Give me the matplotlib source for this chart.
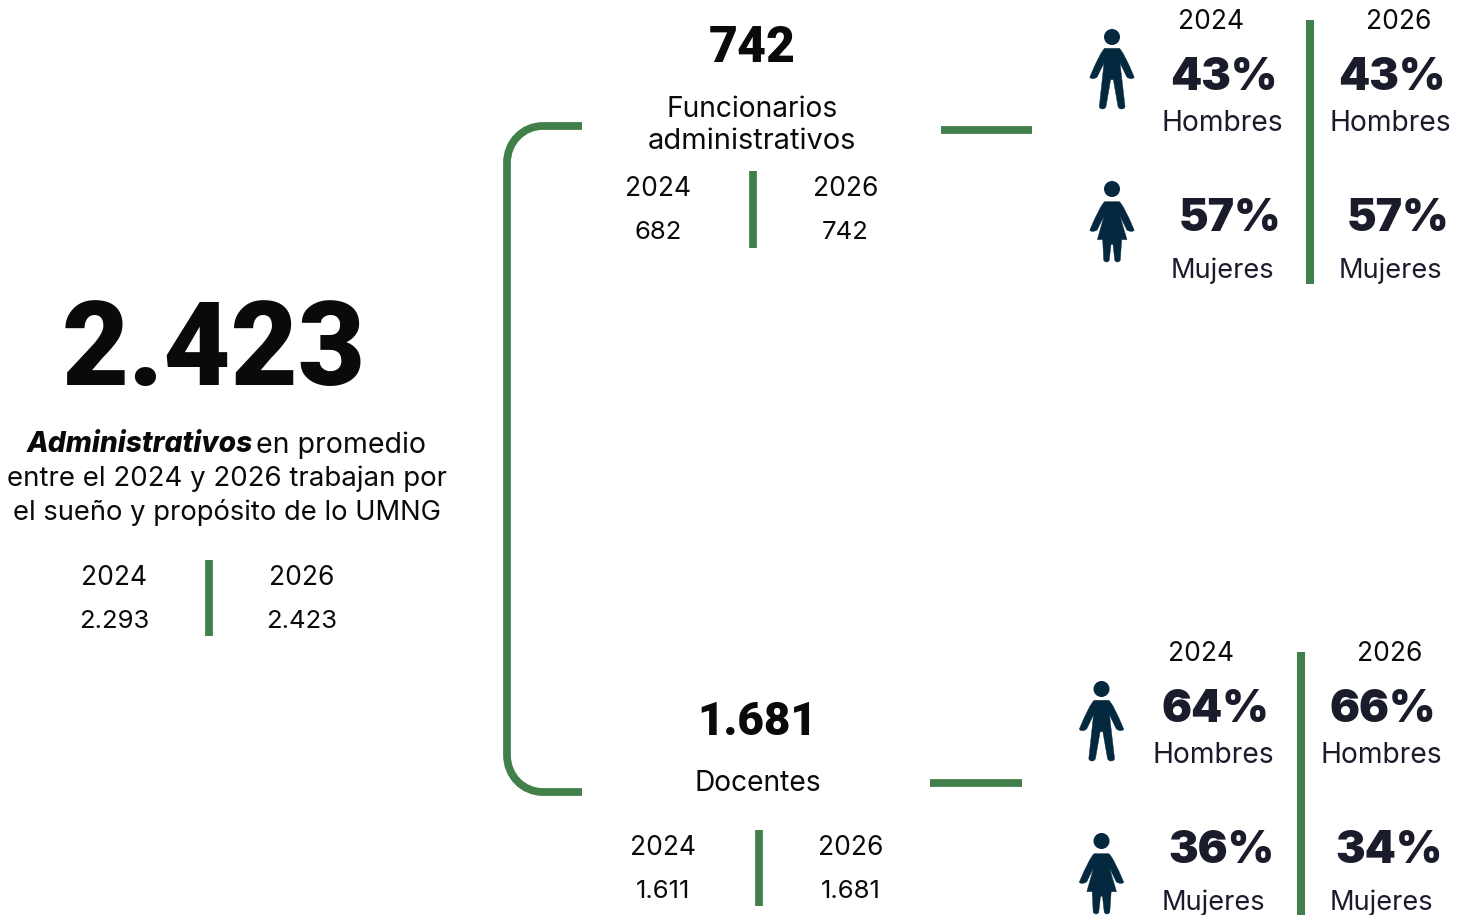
import matplotlib
matplotlib.use("Agg")
import matplotlib.pyplot as plt
from matplotlib.patches import PathPatch, Circle
from matplotlib.path import Path

W, H = 1467, 915
GREEN = "#41804a"
NAVY = "#04293f"
INK = "#1a1c2c"
BLACK = "#0a0a0a"
FONT = "Inter"
HEAVY = "Roboto"

# Headcount
total_value = "2.423"
total_2024 = "2.293"
total_2026 = "2.423"
admin_value = "742"
admin_2024 = "682"
admin_2026 = "742"
teach_value = "1.681"
teach_2024 = "1.611"
teach_2026 = "1.681"

# Gender shares, percent
admin_men = [43, 43]
admin_women = [57, 57]
teach_men = [64, 66]
teach_women = [36, 34]
years = ["2024", "2026"]

plt.rcParams["font.family"] = FONT
fig = plt.figure(figsize=(W / 100, H / 100), dpi=100)
ax = fig.add_axes([0, 0, 1, 1])
ax.set_xlim(0, W)
ax.set_ylim(H, 0)
ax.axis("off")


def label(x, y, s, size=19, weight=400, color=BLACK, family=FONT):
    return ax.text(x, y, s, fontsize=size, fontweight=weight, color=color,
                   family=family, ha="center", va="center_baseline")


def rule(x0, y0, x1, y1, lw=5.6):
    ax.plot([x0, x1], [y0, y1], color=GREEN, lw=lw, solid_capstyle="butt")


def outline(points, cx, top, scale=1 / 3):
    # Smooth closed silhouette from quadratic segments
    verts, codes = [], []
    for i, (px, py, kind) in enumerate(points):
        verts.append((cx + px * scale, top + py * scale))
        codes.append(Path.MOVETO if i == 0 else kind)
    verts.append(verts[0])
    codes.append(Path.CLOSEPOLY)
    return PathPatch(Path(verts, codes), fc=NAVY, ec=NAVY, lw=0.3)


L, C = Path.LINETO, Path.CURVE3
MAN = [
    (-22, 58, L), (-36, 70, C), (-66, 143, L), (-68, 148, C), (-58, 149, L), (-48, 149, C), (-44, 143, L),
    (-24, 102, L), (-38, 232, L), (-38, 240, C), (-28, 240, L), (-20, 240, C), (-18, 232, L), (-4, 152, L),
    (4, 152, L), (18, 232, L), (20, 240, C), (28, 240, L), (39, 240, C), (39, 232, L), (24, 102, L),
    (44, 143, L), (48, 149, C), (58, 149, L), (68, 148, C), (66, 143, L), (36, 70, C), (22, 58, L),
]
WOMAN = [
    (-22, 62, L), (-36, 74, C), (-66, 146, L), (-68, 151, C), (-58, 151, L), (-48, 151, C), (-44, 146, L),
    (-24, 105, L), (-44, 176, L), (-28, 176, L), (-25, 236, L), (-24, 243, C), (-16, 243, L), (-9, 243, C),
    (-8, 236, L), (-3, 190, L), (3, 190, L), (8, 236, L), (9, 243, C), (16, 243, L), (24, 243, C), (25, 236, L),
    (29, 176, L), (45, 176, L), (24, 105, L), (44, 146, L), (48, 151, C), (58, 151, L), (68, 151, C),
    (66, 146, L), (36, 74, C), (22, 62, L),
]


def person(shape, cx, top):
    ax.add_patch(Circle((cx, top + 8), 8, fc=NAVY, ec="none"))
    ax.add_patch(outline(shape, cx, top))


def year_pair(x0, x1, y0, y1, v0, v1, bar_x, bar_top, bar_bottom):
    label(x0, y0, years[0])
    label(x1, y0, years[1])
    label(x0, y1, v0, size=18.5)
    label(x1, y1, v1, size=18.5)
    rule(bar_x, bar_top, bar_x, bar_bottom)


def gender_panel(dx, dy, icon_x, icon_tops, men, women, pct_x):
    # Layout is referenced to the upper panel and shifted for the lower one
    person(MAN, icon_x, icon_tops[0])
    person(WOMAN, icon_x, icon_tops[1])
    rule(1310 + dx, 20 + dy, 1310 + dx, 284 + dy, lw=5.8)
    label(1210.5 + dx, 19 + dy, years[0])
    label(1399 + dx, 19 + dy, years[1])
    for i, col in enumerate([1222, 1390]):
        label(col + dx, 120.5 + dy, "Hombres", size=20.3, color=INK)
        label(col + dx, 268 + dy, "Mujeres", size=19.6, color=INK)
        label(pct_x[i][0], 74 + dy, f"{men[i]}%", size=32, weight=900, color=INK)
        label(pct_x[i][1], 214.5 + dy, f"{women[i]}%", size=32, weight=900, color=INK)


# Headline column
label(214, 342, total_value, size=83.5, weight=900, family=HEAVY)
line_y = 442
ax.text(27, line_y, "Administrativos", fontsize=20.3, fontweight=800, fontstyle="italic",
        color=BLACK, ha="left", va="center_baseline")
ax.text(256, line_y, "en promedio", fontsize=20.5, color=BLACK, ha="left", va="center_baseline")
label(227, 476, "entre el 2024 y 2026 trabajan por", size=19.9)
label(227, 510, "el sueño y propósito de lo UMNG", size=19.7)
year_pair(114, 301.5, 575, 619, total_2024, total_2026, 209, 560, 636)

# Bracket joining the two groups
ax.add_patch(PathPatch(Path(
    [(582, 126), (543, 126), (523, 126), (507, 142), (507, 163),
     (507, 755), (507, 776), (523, 792), (543, 792), (582, 792)],
    [Path.MOVETO, Path.LINETO, Path.CURVE4, Path.CURVE4, Path.CURVE4,
     Path.LINETO, Path.CURVE4, Path.CURVE4, Path.CURVE4, Path.LINETO]),
    fc="none", ec=GREEN, lw=5.6, capstyle="butt"))

# Administrative staff
label(752, 43.5, admin_value, size=36, weight=900, family=HEAVY)
label(752, 106.5, "Funcionarios", size=20.3)
label(752, 138.5, "administrativos", size=20.9)
year_pair(658, 845.5, 186, 230, admin_2024, admin_2026, 753, 171, 248)
rule(941, 130, 1032, 130)
gender_panel(0, 0, 1112, (29, 181), admin_men, admin_women, [(1224, 1230), (1392, 1398)])

# Teaching staff
label(757.5, 717.5, teach_value, size=33, weight=900, family=HEAVY)
label(757.5, 780.5, "Docentes", size=20.3)
year_pair(663, 851, 845, 889, teach_2024, teach_2026, 759, 830, 906)
rule(930, 782.5, 1022, 782.5)
gender_panel(-9, 632, 1101.5, (681, 833), teach_men, teach_women, [(1215, 1221), (1383, 1389)])

fig.savefig("out.png", dpi=100, facecolor="white")
